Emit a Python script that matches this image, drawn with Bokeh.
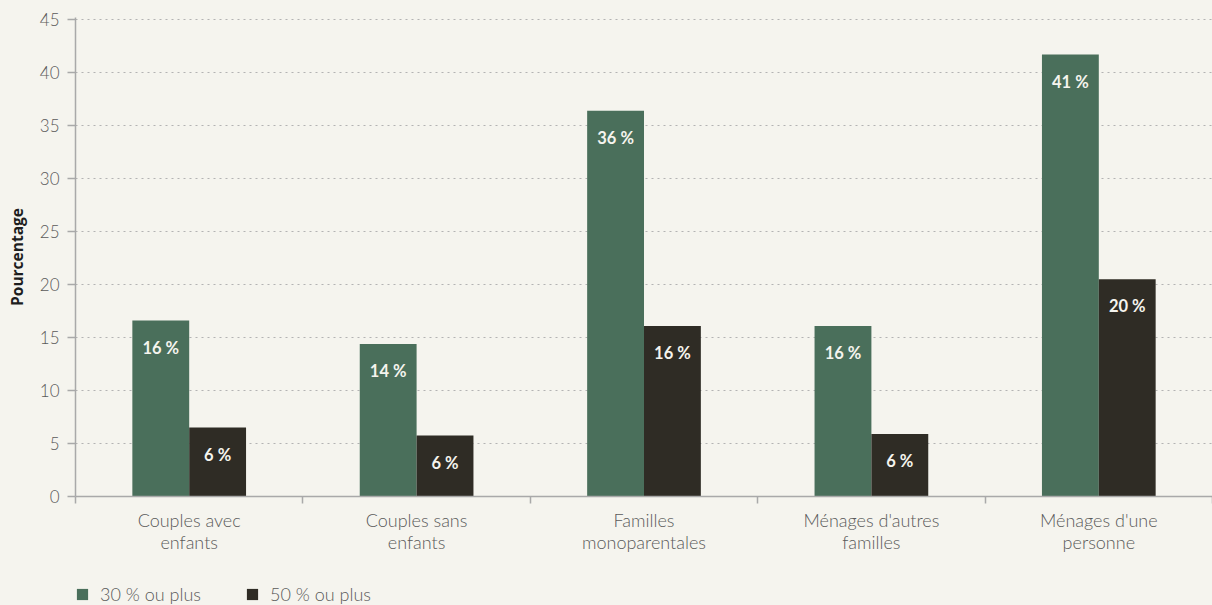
from bokeh.plotting import figure
from bokeh.layouts import column
from bokeh.models import (ColumnDataSource, Range1d, FixedTicker, Legend, LegendItem)
from bokeh.transform import dodge
from bokeh.core.properties import value
from bokeh.embed import file_html
from bokeh.resources import INLINE

categories = ["Couples avec\nenfants", "Couples sans\nenfants", "Familles\nmonoparentales",
              "Ménages d'autres\nfamilles", "Ménages d'une\npersonne"]
series_30 = [16.6, 14.4, 36.4, 16.1, 41.7]
series_50 = [6.5, 5.75, 16.1, 5.9, 20.5]
labels_30 = ["16 %", "14 %", "36 %", "16 %", "41 %"]
labels_50 = ["6 %", "6 %", "16 %", "6 %", "20 %"]
series_names = ["30 % ou plus", "50 % ou plus"]
y_ticks = [0, 5, 10, 15, 20, 25, 30, 35, 40, 45]

BG = "#f5f4ee"
GREEN = "#4a6f5b"
DARK = "#2f2c25"
AXIS = "#a9a9a9"
GRID = "#b3b3b3"
TXT = "#5a5a5a"
LIGHT = "Lato Light, Lato"

n = len(categories)
idx = list(range(n))
centers = [i + 0.5 for i in idx]
boundaries = list(range(n + 1))

src = ColumnDataSource(dict(idx=idx, cat=categories, s30=series_30, s50=series_50,
                            l30=labels_30, l50=labels_50))

p = figure(width=1212, height=555, x_range=Range1d(0, n),
           y_range=Range1d(0, 45.2), output_backend="svg", toolbar_location=None,
           min_border_left=75, min_border_right=0, min_border_top=17, min_border_bottom=59,
           background_fill_color=BG, border_fill_color=BG, outline_line_color=None)

r30 = p.vbar(x=dodge("idx", 0.375), top="s30", width=0.25, source=src,
             fill_color=GREEN, line_color=None)
r50 = p.vbar(x=dodge("idx", 0.625), top="s50", width=0.25, source=src,
             fill_color=DARK, line_color=None)

for xoff, ycol, lcol in [(0.375, "s30", "l30"), (0.625, "s50", "l50")]:
    p.text(x=dodge("idx", xoff), y=ycol, text=lcol, source=src,
           text_align="center", text_baseline="middle", y_offset=27,
           text_color="#f5f4ee", text_font=value("Lato"), text_font_style="bold",
           text_font_size="16.5px")

# y axis
yax = p.yaxis[0]
yax.ticker = FixedTicker(ticks=y_ticks)
yax.axis_line_color = AXIS
yax.axis_line_width = 1.5
yax.major_tick_line_color = AXIS
yax.major_tick_line_width = 1.5
yax.major_tick_out = 8
yax.major_tick_in = 0
yax.minor_tick_out = 0
yax.minor_tick_in = 0
yax.major_label_standoff = 8
yax.major_label_text_font = LIGHT
yax.major_label_text_font_size = "17px"
yax.major_label_text_color = TXT
yax.axis_label = "Pourcentage"
yax.axis_label_text_font = "Open Sans"
yax.axis_label_text_font_style = "bold"
yax.axis_label_text_font_size = "15.5px"
yax.axis_label_text_color = "#1e1e1e"
yax.axis_label_standoff = 9

p.xgrid.grid_line_color = None
p.ygrid.grid_line_color = GRID
p.ygrid.grid_line_dash = "2 4"
p.ygrid.grid_line_width = 1

# x axis: category labels at centres, small ticks at the category boundaries
xax = p.xaxis[0]
xax.ticker = FixedTicker(ticks=centers, minor_ticks=boundaries)
xax.major_label_overrides = {c: lab for c, lab in zip(centers, categories)}
xax.axis_line_color = AXIS
xax.axis_line_width = 1.5
xax.major_tick_out = 0
xax.major_tick_in = 0
xax.minor_tick_out = 7
xax.minor_tick_in = 0
xax.minor_tick_line_color = AXIS
xax.minor_tick_line_width = 1.5
xax.major_label_standoff = 5
xax.major_label_text_font = LIGHT
xax.major_label_text_font_size = "18px"
xax.major_label_text_line_height = 1.0
xax.major_label_text_color = TXT

# legend strip underneath (zero-height proxy bars carry the legend swatches)
p2 = figure(width=1212, height=50, x_range=Range1d(0, 1), y_range=Range1d(0, 1),
            x_axis_type=None, y_axis_type=None, output_backend="svg", toolbar_location=None,
            min_border=0, background_fill_color=BG, border_fill_color=BG,
            outline_line_color=None)
p2.xgrid.grid_line_color = None
p2.ygrid.grid_line_color = None
g30 = p2.vbar(x="idx", top=0, bottom=0, width=0.25, source=src, fill_color=GREEN,
              line_color=None)
g50 = p2.vbar(x="idx", top=0, bottom=0, width=0.25, source=src, fill_color=DARK,
              line_color=None)

legend = Legend(items=[LegendItem(label=series_names[0], renderers=[g30]),
                       LegendItem(label=series_names[1], renderers=[g50])],
                location=(0, 0), orientation="horizontal", glyph_width=14, glyph_height=14,
                label_height=14, label_standoff=11, spacing=44, padding=0, margin=0,
                background_fill_alpha=0, border_line_color=None,
                label_text_font=LIGHT, label_text_font_size="18px", label_text_color=TXT)
p2.add_layout(legend, "center")

layout = column(p, p2, spacing=0, styles={"background-color": BG})

open("out.html", "w").write(file_html(layout, INLINE))
